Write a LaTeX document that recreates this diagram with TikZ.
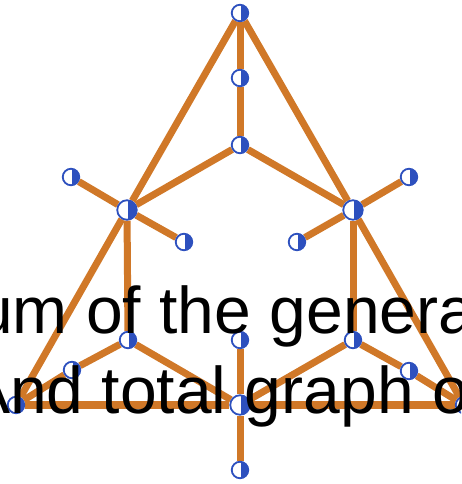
\documentclass[tikz,border=0pt]{standalone}
\usepackage{fontspec}
\setmainfont{Liberation Sans}
\usetikzlibrary{backgrounds}
\definecolor{edgeorange}{RGB}{208,120,40}
\definecolor{nodeblue}{RGB}{45,80,190}
\tikzset{
  vdot/.style={circle, draw=nodeblue, line width=1.8pt, fill=white, inner sep=0pt, minimum size=16.5pt,
    path picture={\fill[nodeblue] ([xshift=1pt]path picture bounding box.north) rectangle (path picture bounding box.south east);}},
  bigdot/.style={vdot, minimum size=19.5pt},
  gedge/.style={draw=edgeorange, line width=7pt},
  bigtext/.style={font=\fontsize{66}{66}\selectfont, anchor=base west, inner sep=0pt, text=black}
}
\begin{document}
\begin{tikzpicture}[x=1pt, y=-1pt]
\useasboundingbox (0,0) rectangle (461,484);
\clip (0,0) rectangle (461,484);
% nodes
\node[vdot] (T) at (240,13) {};
\node[vdot] (A) at (240,78) {};
\node[vdot] (B) at (240,145) {};
\node[bigdot] (L) at (127,210) {};
\node[bigdot] (R) at (353,210) {};
\node[vdot] (l1) at (71,177) {};
\node[vdot] (l2) at (184,242) {};
\node[vdot] (r1) at (409,177) {};
\node[vdot] (r2) at (297,242) {};
\node[vdot] (P) at (128,340) {};
\node[vdot] (Q) at (353,340) {};
\node[vdot] (M1) at (72,370) {};
\node[vdot] (M2) at (409,371) {};
\node[vdot] (BL) at (16,405) {};
\node[vdot] (BR) at (464,405) {};
\node[vdot] (D) at (240,340) {};
\node[bigdot] (C) at (240,405) {};
\node[vdot] (E) at (240,470) {};
\begin{pgfonlayer}{background}
\draw[gedge] (T) -- (A);
\draw[gedge] (A) -- (B);
\draw[gedge] (B) -- (L);
\draw[gedge] (B) -- (R);
\draw[gedge] (T) -- (L);
\draw[gedge] (T) -- (R);
\draw[gedge] (L) -- (l1);
\draw[gedge] (L) -- (l2);
\draw[gedge] (R) -- (r1);
\draw[gedge] (R) -- (r2);
\draw[gedge] (L) -- (BL);
\draw[gedge] (R) -- (BR);
\draw[gedge] (L) -- (P);
\draw[gedge] (R) -- (Q);
\draw[gedge] (P) -- (M1);
\draw[gedge] (M1) -- (BL);
\draw[gedge] (P) -- (C);
\draw[gedge] (Q) -- (C);
\draw[gedge] (Q) -- (M2);
\draw[gedge] (M2) -- (BR);
\draw[gedge, line width=8.5pt] (BL) -- (C);
\draw[gedge, line width=8.5pt] (C) -- (BR);
\draw[gedge] (D) -- (C);
\draw[gedge] (C) -- (E);
\end{pgfonlayer}
% overlaid text
\node[bigtext] (line1) at (-24,333) {um of the genera};
\node[bigtext] (line2) at (-34,413) {And total graph o};
\end{tikzpicture}
\end{document}
